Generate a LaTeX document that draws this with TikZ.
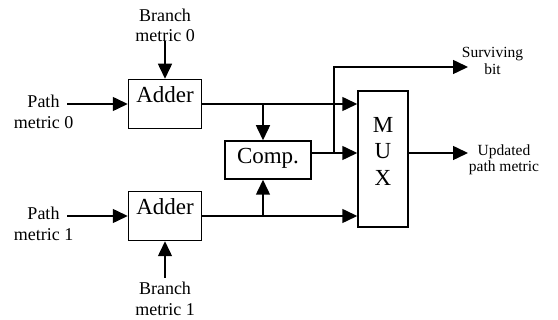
\documentclass[tikz,border=0pt]{standalone}
\usepackage{fontspec}
\setmainfont{Liberation Serif}
\usetikzlibrary{arrows.meta}

\begin{document}
\begin{tikzpicture}
[
    x = 1pt, y = -1pt,
    box/.style = {draw, line width = 1.5pt, inner sep = 0pt, font = \fontsize{23pt}{26.5pt}\selectfont},
    adder/.style = {box, minimum width = 73pt, text height = 23pt, text depth = 26pt},
    inlabel/.style = {align = center, inner sep = 0pt, font = \fontsize{18pt}{20.5pt}\selectfont},
    outlabel/.style = {align = center, inner sep = 0pt, font = \fontsize{15.5pt}{16.5pt}\selectfont},
    arr/.style = {line width = 1.5pt, -{Triangle[length = 15pt, width = 14pt]}},
]
    \useasboundingbox (0,0) rectangle (558,320);

    \node[adder] (add0) at (165,104) {Adder};
    \node[adder] (add1) at (165,216) {Adder};
    \node[box, minimum width = 86pt, text height = 23pt, text depth = 15pt] (comp) at (268,160) {Comp.};
    \node[box, minimum width = 50pt, minimum height = 136pt] (mux) at (383,159) {};
    \node[inner sep = 0pt, align = center, font = \fontsize{23pt}{26.5pt}\selectfont] (muxtext) at (383,151) {M\\U\\X};

    \node[inlabel] (pm0) at (43.5,112) {Path\\metric 0};
    \node[inlabel] (pm1) at (43.5,224) {Path\\metric 1};
    \node[inlabel] (bm0) at (165,25.4) {Branch\\metric 0};
    \node[inlabel] (bm1) at (165,299) {Branch\\metric 1};
    \node[outlabel] (surv) at (492.5,60.7) {Surviving\\bit};
    \node[outlabel] (upd) at (504,160) {Updated\\path metric};

    \coordinate (pm0in) at (67,104);
    \coordinate (pm1in) at (67,216);
    \coordinate (bm0out) at (165,41);
    \coordinate (bm1out) at (165,278);
    \coordinate (j0) at (263,104);
    \coordinate (j1) at (263,216);
    \coordinate (cout) at ([yshift = 7pt]comp.east);
    \coordinate (sv) at (334,153);
    \coordinate (svend) at (468,67);
    \coordinate (updend) at (468,153);

    \draw[arr] (pm0in) -- (add0.west);
    \draw[arr] (pm1in) -- (add1.west);
    \draw[arr] (bm0out) -- (add0.north);
    \draw[arr] (bm1out) -- (add1.south);
    \draw[arr] (add0.east) -- (add0.east -| mux.west);
    \draw[arr] (add1.east) -- (add1.east -| mux.west);
    \draw[arr] (j0) -- (j0 |- comp.north);
    \draw[arr] (j1) -- (j1 |- comp.south);
    \draw[arr] (cout) -- (cout -| mux.west);
    \draw[arr] (sv) |- (svend);
    \draw[arr] (mux.east |- cout) -- (updend);
\end{tikzpicture}
\end{document}
